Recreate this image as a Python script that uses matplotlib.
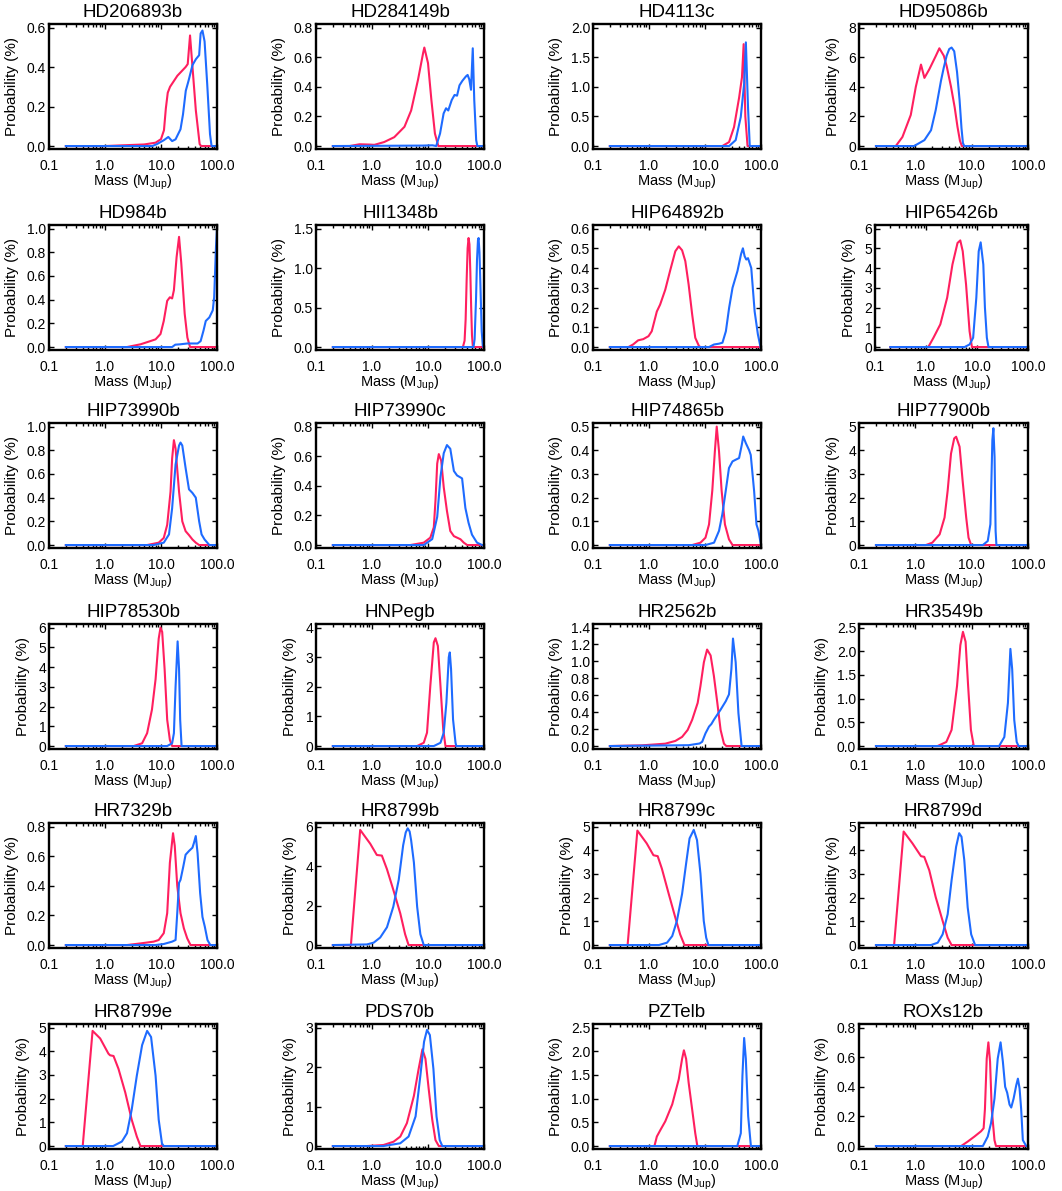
"""
Mass probability distributions for 24 directly imaged companions
red: model 1, blue: model 2
"""

import matplotlib
matplotlib.use("Agg")
import matplotlib.pyplot as plt
from matplotlib.ticker import FixedLocator, FixedFormatter, LogLocator, NullFormatter
import numpy as np

plt.rcParams["font.family"] = ["Liberation Sans", "DejaVu Sans"]
plt.rcParams["mathtext.default"] = "regular"

names = ["HD206893b", "HD284149b", "HD4113c", "HD95086b",
         "HD984b", "HII1348b", "HIP64892b", "HIP65426b",
         "HIP73990b", "HIP73990c", "HIP74865b", "HIP77900b",
         "HIP78530b", "HNPegb", "HR2562b", "HR3549b",
         "HR7329b", "HR8799b", "HR8799c", "HR8799d",
         "HR8799e", "PDS70b", "PZTelb", "ROXs12b"]

y_top = [0.6, 0.8, 2.0, 8, 1.0, 1.5, 0.6, 6, 1.0, 0.8, 0.5, 5,
         6, 4, 1.4, 2.5, 0.8, 6, 5, 5, 5, 3, 2.5, 0.8]
y_step = [0.2, 0.2, 0.5, 2, 0.2, 0.5, 0.1, 1, 0.2, 0.2, 0.1, 1,
          1, 1, 0.2, 0.5, 0.2, 2, 1, 1, 1, 1, 0.5, 0.2]

x_ticks = [0.1, 1.0, 10.0, 100.0]
x_ticklabels = ["0.1", "1.0", "10.0", "100.0"]

# mass (MJup) / probability (%), one list per panel
red_mass = [
    [0.2, 1.0, 5.0, 8.0, 10.0, 11.3, 12.2, 13.2, 14.5, 19.6, 27.5, 30, 33, 36.5, 41.9, 49, 52, 100],
    [0.2, 0.4, 0.6, 0.9, 1.1, 1.65, 2.5, 3.8, 5.0, 6.65, 8.2, 8.6, 10, 11.5, 13.3, 15.3, 100],
    [0.2, 20.4, 26.9, 33, 40.7, 45.7, 49, 52.5, 57.5, 100],
    [0.2, 0.45, 0.59, 0.83, 1.02, 1.26, 1.45, 1.78, 2.3, 2.67, 3.2, 3.6, 4.3, 5.0, 5.6, 6.2, 6.7, 100],
    [0.2, 2.47, 4.3, 6.45, 8, 9.8, 11.2, 12.9, 14.4, 15.8, 17, 19, 21, 23, 26.5, 29.6, 33, 100],
    [0.2, 42, 45, 47, 49, 51, 53, 55, 57, 59, 61, 63, 64, 100],
    [0.2, 0.43, 0.52, 0.64, 0.79, 0.98, 1.12, 1.38, 1.58, 1.95, 2.4, 2.95, 3.4, 3.9, 4.45, 5.1, 5.9, 6.7, 7.8, 8.3, 100],
    [0.2, 1.11, 1.4, 1.91, 2.6, 3.3, 4.15, 4.7, 5.25, 6.1, 7.15, 7.95, 100],
    [0.2, 5.65, 9.1, 11.2, 12.9, 14.8, 15.8, 17, 18.2, 21, 24, 27.5, 31.6, 36.4, 41.8, 48, 100],
    [0.2, 4.85, 8.4, 11, 12.7, 13.6, 14.6, 15.6, 17.2, 19.1, 21.8, 25, 29, 33, 38, 43.6, 50, 100],
    [0.2, 5.9, 8.3, 10.2, 11.8, 13.5, 15, 16.2, 17.8, 19.8, 22.7, 26.8, 31, 100],
    [0.2, 1.54, 2.0, 2.7, 3.3, 3.75, 4.3, 4.9, 5.3, 6.1, 6.9, 8.0, 8.8, 9.8, 100],
    [0.2, 3.25, 4.6, 5.65, 6.9, 8.0, 9.1, 9.8, 10.5, 11.6, 12.9, 14.4, 15.8, 100],
    [0.2, 6.4, 8.4, 9.6, 11, 12.7, 13.6, 15, 16.7, 18.7, 20.5, 100],
    [0.2, 0.74, 1.95, 2.95, 3.9, 4.9, 5.9, 7.4, 8.3, 9.55, 10.9, 12.6, 14.4, 16.6, 19, 21.8, 24, 100],
    [0.2, 2.48, 3.55, 4.4, 5.5, 6.3, 7.0, 7.8, 8.65, 9.7, 10.9, 100],
    [0.2, 2.47, 4.3, 7.4, 9.1, 11.2, 12.9, 14.4, 16.4, 17.6, 19.5, 22.3, 25.6, 29.4, 33.7, 100],
    [0.2, 0.42, 0.615, 0.93, 1.22, 1.5, 1.85, 2.4, 3.2, 3.9, 4.5, 100],
    [0.2, 0.415, 0.62, 0.91, 1.2, 1.43, 1.7, 2.25, 2.95, 3.6, 4.3, 100],
    [0.2, 0.42, 0.62, 0.89, 1.26, 1.44, 1.77, 2.3, 3.05, 3.75, 4.4, 100],
    [0.2, 0.4, 0.6, 0.82, 1.15, 1.23, 1.42, 1.74, 2.3, 3.0, 3.7, 4.3, 100],
    [0.2, 0.81, 1.6, 2.43, 3.2, 4.2, 5.6, 6.8, 7.95, 9.0, 10.3, 11.9, 13.6, 15.6, 100],
    [0.2, 1.25, 1.38, 1.6, 1.95, 2.6, 3.4, 3.9, 4.2, 4.6, 5.1, 5.9, 6.7, 7.3, 100],
    [0.2, 6.5, 8.5, 11.2, 14.7, 16.3, 17.2, 18.5, 19.8, 21.2, 22.7, 25.4, 27, 100],
]
red_prob = [
    [0, 0, 0.008, 0.017, 0.035, 0.08, 0.19, 0.27, 0.30, 0.356, 0.40, 0.415, 0.56, 0.40, 0.18, 0.01, 0, 0],
    [0, 0, 0.012, 0.01, 0.008, 0.027, 0.06, 0.13, 0.24, 0.45, 0.63, 0.665, 0.56, 0.31, 0.084, 0, 0],
    [0, 0, 0.067, 0.32, 0.82, 1.16, 1.72, 0.5, 0, 0],
    [0, 0, 0.61, 2.1, 4.0, 5.5, 4.6, 5.2, 6.07, 6.6, 6.1, 5.4, 4.0, 2.6, 1.3, 0.35, 0, 0],
    [0, 0, 0.023, 0.05, 0.065, 0.11, 0.22, 0.39, 0.42, 0.41, 0.48, 0.76, 0.93, 0.71, 0.28, 0.08, 0, 0],
    [0, 0, 0.08, 0.35, 0.85, 1.25, 1.38, 1.3, 0.95, 0.5, 0.15, 0.02, 0, 0],
    [0, 0, 0.013, 0.034, 0.04, 0.055, 0.08, 0.18, 0.215, 0.29, 0.39, 0.485, 0.51, 0.49, 0.435, 0.317, 0.165, 0.047, 0.005, 0, 0],
    [0, 0, 0.47, 1.15, 2.5, 4.18, 5.27, 5.4, 4.85, 3.17, 0.8, 0, 0],
    [0, 0, 0.02, 0.06, 0.17, 0.45, 0.73, 0.885, 0.815, 0.45, 0.2, 0.117, 0.084, 0.047, 0.02, 0, 0],
    [0, 0, 0.016, 0.05, 0.12, 0.3, 0.55, 0.614, 0.57, 0.39, 0.23, 0.095, 0.06, 0.05, 0.039, 0.016, 0, 0],
    [0, 0, 0.01, 0.031, 0.087, 0.23, 0.395, 0.5, 0.395, 0.23, 0.087, 0.024, 0, 0],
    [0, 0, 0.1, 0.45, 1.16, 2.3, 3.86, 4.5, 4.57, 4.15, 2.73, 1.16, 0.31, 0, 0],
    [0, 0, 0.14, 0.65, 1.85, 3.38, 5.44, 6.0, 5.78, 3.9, 1.33, 0.31, 0, 0],
    [0, 0, 0.11, 0.45, 2.03, 3.5, 3.64, 3.38, 2.03, 0.56, 0, 0],
    [0, 0.008, 0.028, 0.06, 0.108, 0.19, 0.31, 0.51, 0.71, 0.99, 1.14, 1.07, 0.83, 0.51, 0.19, 0.028, 0, 0],
    [0, 0, 0.086, 0.34, 1.27, 2.13, 2.41, 2.2, 1.27, 0.34, 0, 0],
    [0, 0, 0.011, 0.023, 0.034, 0.08, 0.215, 0.555, 0.755, 0.67, 0.4, 0.215, 0.113, 0.045, 0, 0],
    [0, 0, 5.83, 5.13, 4.56, 4.53, 3.84, 2.8, 1.6, 0.55, 0, 0],
    [0, 0, 4.83, 4.29, 3.79, 3.75, 3.22, 2.16, 1.16, 0.45, 0, 0],
    [0, 0, 4.79, 4.29, 3.75, 3.72, 3.15, 2.02, 1.02, 0.31, 0, 0],
    [0, 0, 4.86, 4.54, 3.9, 3.83, 3.8, 3.26, 2.26, 1.11, 0.4, 0, 0],
    [0, 0, 0.026, 0.11, 0.24, 0.58, 1.27, 1.95, 2.45, 2.21, 1.44, 0.67, 0.15, 0, 0],
    [0, 0, 0.2, 0.34, 0.52, 0.88, 1.41, 1.84, 2.02, 1.84, 1.34, 0.77, 0.27, 0, 0],
    [0, 0, 0.03, 0.064, 0.1, 0.12, 0.25, 0.59, 0.70, 0.57, 0.25, 0.04, 0, 0],
]

blue_mass = [
    [0.2, 7, 8.5, 11.3, 13.5, 15.8, 18.2, 22.3, 24.7, 27.7, 31, 36.5, 42, 48, 51, 55, 60, 67, 75, 80, 100],
    [0.2, 8, 12, 14, 16.4, 19, 21, 23, 26.5, 29.8, 33, 36.5, 41, 47.5, 51, 54.6, 58.6, 63, 67, 72.5, 76, 100],
    [0.2, 27, 35.3, 43.5, 50, 53.7, 58.6, 63, 100],
    [0.2, 0.95, 1.45, 1.9, 2.3, 2.85, 3.2, 3.6, 4.0, 4.4, 4.9, 5.5, 6.1, 6.6, 7.0, 7.4, 100],
    [0.2, 15.8, 18, 22, 29.6, 45, 51, 57.5, 63, 73, 84, 89, 96, 100],
    [0.2, 65, 68, 72, 75, 78, 80, 83, 87, 91, 95, 97, 100],
    [0.2, 11.8, 14.5, 17.8, 20.5, 23.6, 27, 31, 38, 44, 47.5, 51, 54.6, 58.6, 67, 77, 88, 98, 100],
    [0.2, 5.7, 7.15, 8.4, 9.7, 10.8, 11.8, 13.3, 14.3, 15.6, 16.8, 100],
    [0.2, 7.4, 11.2, 13.9, 15.8, 18.2, 21, 22.3, 24, 27.5, 31.6, 36.4, 41.8, 48, 53, 60, 73, 100],
    [0.2, 8.4, 11.9, 14.6, 16.7, 19.1, 21.8, 25, 29, 33, 40.6, 46.5, 53, 61, 75, 93, 100],
    [0.2, 10.2, 14.5, 17.8, 20.4, 23.5, 26.8, 31, 35.3, 40.6, 45.4, 48.1, 53.6, 61.4, 65.6, 75.4, 83, 90, 100],
    [0.2, 15.8, 19.3, 21.5, 23.3, 24.3, 25.5, 26.6, 27.5, 100],
    [0.2, 12.9, 15.8, 17, 18.2, 19.8, 21, 22, 23.3, 100],
    [0.2, 12.7, 16.7, 19.1, 21.3, 23.5, 24.5, 25.8, 28, 31, 32, 100],
    [0.2, 5.1, 8.0, 8.9, 10.2, 11.8, 13.0, 14.4, 19, 23.5, 26.8, 29.6, 31.6, 35.3, 39.5, 45, 100],
    [0.2, 30.7, 38, 44, 48.7, 52.4, 57, 63, 68, 100],
    [0.2, 8, 11.2, 15.8, 18.2, 19.5, 21, 22.3, 25, 27.5, 31.6, 36.4, 38.8, 41.8, 45, 50, 55, 60.5, 67.6, 76, 100],
    [0.2, 0.81, 1.07, 1.4, 1.85, 2.4, 3.0, 3.6, 4.0, 4.34, 4.7, 5.0, 5.6, 6.4, 7.3, 8.4, 100],
    [0.2, 1.5, 2.1, 2.6, 3.15, 3.9, 4.6, 5.3, 6.3, 7.2, 8.3, 9.5, 10.5, 11.5, 100],
    [0.2, 1.9, 2.5, 3.05, 3.75, 4.4, 5.3, 6.0, 6.6, 7.4, 8.5, 9.8, 11.5, 100],
    [0.2, 1.4, 2.0, 2.47, 3.0, 3.7, 4.6, 5.65, 6.65, 8.0, 9.1, 10.4, 11.2, 100],
    [0.2, 1.6, 3.2, 4.5, 6.0, 7.3, 8.5, 9.6, 10.8, 12.5, 14.2, 16.2, 18, 100],
    [0.2, 37.7, 43.6, 46.6, 50, 53.6, 59, 66, 100],
    [0.2, 15.8, 19.3, 22.1, 25.4, 29, 32.6, 35.8, 39.3, 42.7, 47, 50.4, 55.5, 61.8, 66.2, 70.8, 75.6, 81, 93, 100],
]
blue_prob = [
    [0, 0, 0.01, 0.03, 0.046, 0.025, 0.034, 0.085, 0.16, 0.28, 0.33, 0.41, 0.44, 0.46, 0.57, 0.585, 0.53, 0.31, 0.06, 0, 0],
    [0, 0.003, 0.005, 0, 0.084, 0.22, 0.255, 0.24, 0.31, 0.345, 0.34, 0.41, 0.44, 0.47, 0.48, 0.45, 0.38, 0.66, 0.31, 0.04, 0, 0],
    [0, 0, 0.1, 0.49, 1.05, 1.75, 0.66, 0, 0],
    [0, 0, 0.4, 1.07, 2.43, 4.4, 5.3, 6.1, 6.55, 6.65, 6.4, 5.0, 3.1, 1.2, 0.2, 0, 0],
    [0, 0, 0.02, 0.023, 0.03, 0.03, 0.05, 0.14, 0.22, 0.25, 0.31, 0.42, 0.85, 1.0],
    [0, 0, 0.1, 0.6, 1.1, 1.35, 1.38, 1.2, 0.7, 0.2, 0.02, 0, 0],
    [0, 0, 0.013, 0.017, 0.022, 0.08, 0.2, 0.3, 0.385, 0.47, 0.5, 0.46, 0.443, 0.45, 0.4, 0.18, 0.064, 0, 0],
    [0, 0, 0.13, 0.47, 2.5, 4.85, 5.3, 4.18, 2.0, 0.47, 0, 0],
    [0, 0, 0.02, 0.09, 0.31, 0.68, 0.84, 0.865, 0.84, 0.65, 0.47, 0.44, 0.4, 0.2, 0.09, 0.047, 0, 0],
    [0, 0, 0.04, 0.19, 0.46, 0.62, 0.675, 0.65, 0.5, 0.47, 0.45, 0.25, 0.15, 0.07, 0.016, 0, 0],
    [0, 0, 0.01, 0.06, 0.13, 0.23, 0.325, 0.353, 0.36, 0.367, 0.423, 0.458, 0.43, 0.40, 0.38, 0.227, 0.087, 0.06, 0],
    [0, 0, 0.17, 0.88, 4.43, 4.93, 3.72, 0.6, 0, 0],
    [0, 0, 0.14, 0.65, 3.0, 5.3, 3.9, 1.33, 0, 0],
    [0, 0, 0.11, 0.45, 1.46, 3.0, 3.16, 2.6, 0.9, 0.11, 0, 0],
    [0, 0.01, 0.03, 0.05, 0.15, 0.23, 0.26, 0.31, 0.43, 0.53, 0.61, 0.91, 1.27, 0.99, 0.39, 0, 0],
    [0, 0, 0.19, 0.91, 2.05, 1.62, 0.55, 0.086, 0, 0],
    [0, 0, 0.007, 0.023, 0.034, 0.215, 0.42, 0.44, 0.53, 0.61, 0.635, 0.657, 0.69, 0.736, 0.62, 0.35, 0.19, 0.125, 0.034, 0, 0],
    [0, 0.03, 0.12, 0.38, 0.9, 1.94, 3.3, 5.05, 5.7, 5.91, 5.75, 5.3, 4.18, 1.94, 0.55, 0, 0],
    [0, 0, 0.1, 0.38, 1.02, 2.16, 3.44, 4.5, 4.86, 4.43, 3.01, 1.02, 0.31, 0, 0],
    [0, 0, 0.1, 0.45, 1.3, 2.73, 4.15, 4.72, 4.57, 3.58, 1.59, 0.45, 0, 0],
    [0, 0, 0.19, 0.54, 1.54, 2.97, 4.26, 4.86, 4.6, 2.97, 1.11, 0.11, 0, 0],
    [0, 0, 0.07, 0.24, 0.75, 1.78, 2.64, 2.94, 2.81, 1.95, 0.75, 0.15, 0, 0],
    [0, 0, 0.27, 1.48, 2.28, 1.84, 0.63, 0, 0],
    [0, 0, 0.064, 0.156, 0.32, 0.59, 0.70, 0.57, 0.4, 0.36, 0.28, 0.26, 0.32, 0.41, 0.455, 0.39, 0.25, 0.04, 0, 0],
]

RED = "#ff1f5f"
BLUE = "#1e6bff"

W, H = 1062, 1191
col_left = [49, 316, 593, 859]
row_top = [24, 225, 423, 624, 823, 1024]
ax_h = 125
right_edge = [217, 484, 761, 1028]
# one panel sits a bit further right in the original
left_override = {7: 875}

fig = plt.figure(figsize=(W / 100, H / 100), dpi=100)

for i, name in enumerate(names):
    r, c = divmod(i, 4)
    left = left_override.get(i, col_left[c])
    width = right_edge[c] - left
    ax = fig.add_axes([left / W, 1 - (row_top[r] + ax_h) / H, width / W, ax_h / H])

    ax.plot(red_mass[i], red_prob[i], color=RED, lw=1.5)
    ax.plot(blue_mass[i], blue_prob[i], color=BLUE, lw=1.5)

    ax.set_xscale("log")
    ax.set_xlim(0.1, 100)
    ax.xaxis.set_major_locator(FixedLocator(x_ticks))
    ax.xaxis.set_major_formatter(FixedFormatter(x_ticklabels))
    ax.xaxis.set_minor_locator(LogLocator(base=10, subs=np.arange(2, 10)))
    ax.xaxis.set_minor_formatter(NullFormatter())

    top = y_top[i]
    step = y_step[i]
    yt = np.arange(0, top + step / 2, step)
    ax.set_ylim(-0.025 * top, 1.03 * top)
    ax.set_yticks(yt)
    if step < 1:
        ax.set_yticklabels([f"{v:.1f}" for v in yt])
    else:
        ax.set_yticklabels([f"{v:.0f}" for v in yt])

    ax.tick_params(which="both", direction="in", top=True, right=True,
                   labelsize=10, width=1)
    ax.tick_params(which="major", length=3.5)
    ax.tick_params(which="minor", length=2)
    ax.tick_params(axis="x", which="major", pad=7)
    ax.tick_params(axis="y", which="major", pad=2)
    for sp in ax.spines.values():
        sp.set_linewidth(1.7)

    ax.set_title(name, fontsize=13.5, pad=5)
    ax.set_xlabel("Mass (M$_{Jup}$)", fontsize=10.5, labelpad=0)
    ax.set_ylabel("Probability (%)", fontsize=11, labelpad=6)

plt.savefig("out.png", dpi=100)
